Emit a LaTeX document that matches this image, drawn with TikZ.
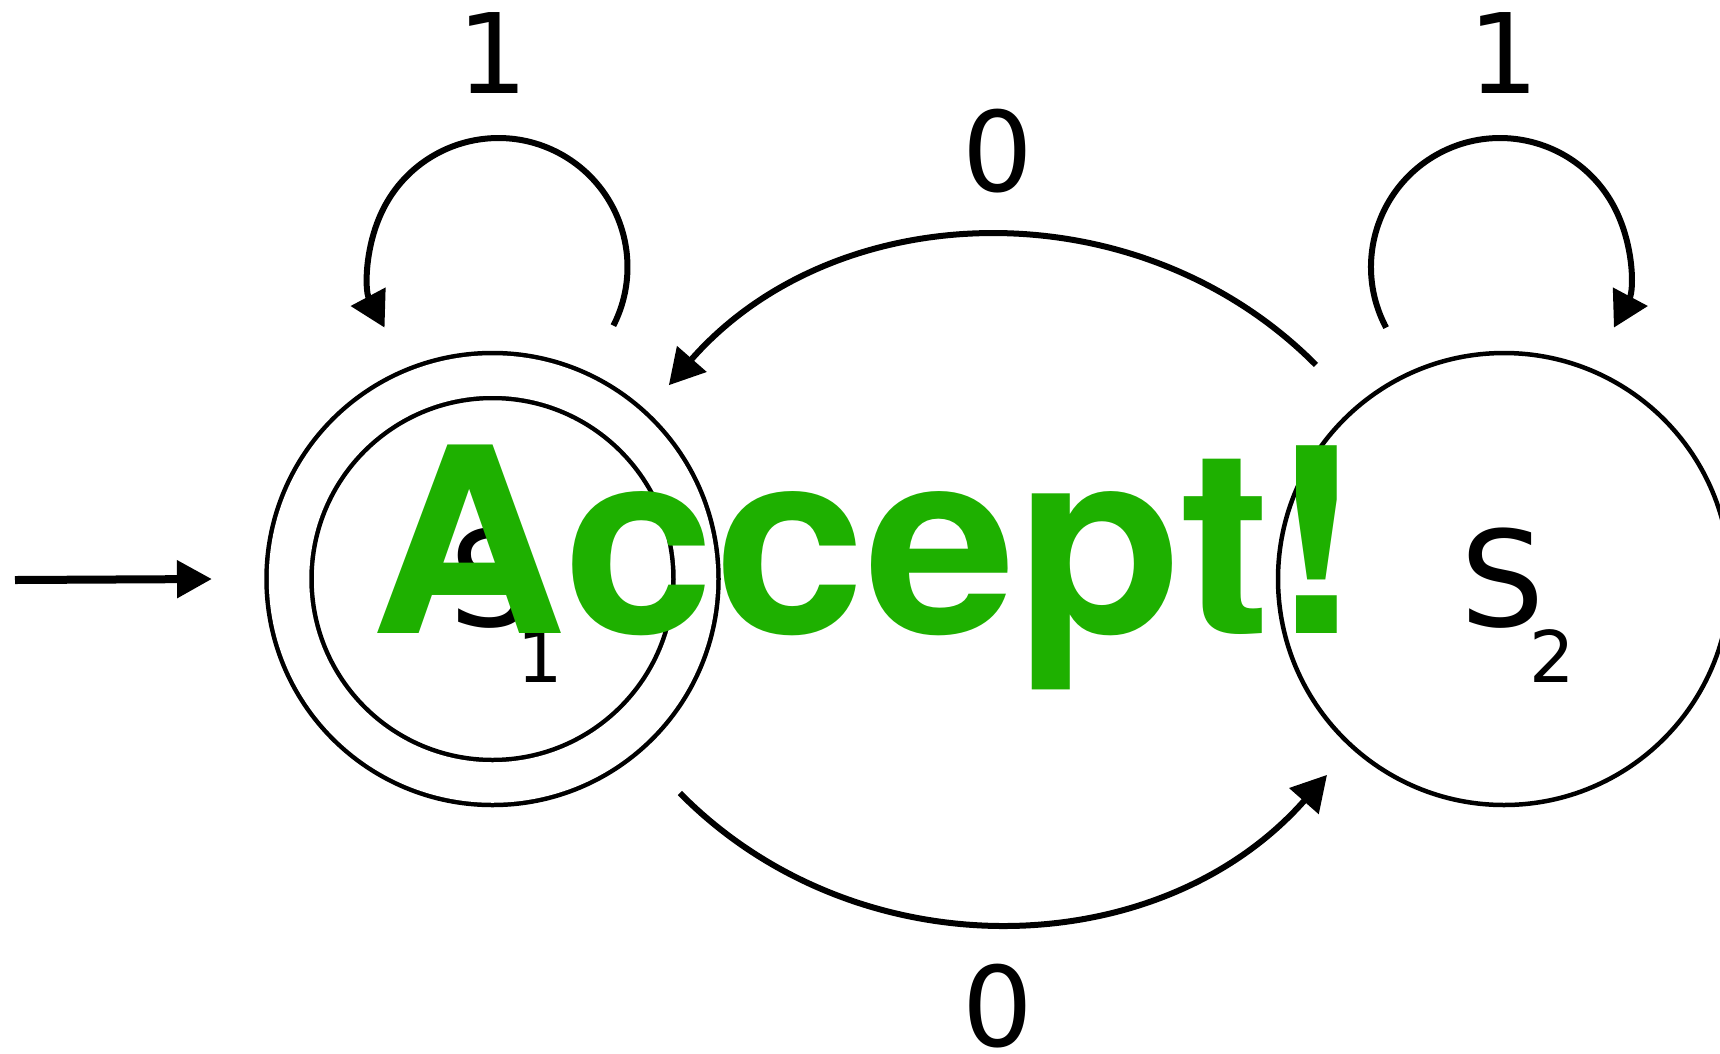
\documentclass[tikz,border=0pt]{standalone}
\usepackage{fontspec}
\setmainfont{DejaVu Sans}
\newfontfamily\bannerfont{TeX Gyre Heros}
\usepackage{tikz}
\usetikzlibrary{
	arrows.meta,
	calc
}
\definecolor{AcceptGreen}{RGB}{30,176,0}
\newcommand{\subidx}[1]{\kern-0.16cm\raisebox{-0.56cm}{\fontsize{20.3pt}{21pt}\selectfont #1}}

\begin{document}
\begin{tikzpicture}[
	state/.style={circle, draw, line width=0.045cm, inner sep=0pt, outer sep=0pt, minimum size=4.52cm},
	accepting/.style={double, double distance=0.405cm, minimum size=4.07cm},
	trans/.style={line width=0.06cm, -{Triangle[length=0.35cm, width=0.38cm]}},
	entry/.style={line width=0.08cm, -{Triangle[length=0.35cm, width=0.36cm]}},
	sym/.style={inner sep=0pt, font=\fontsize{31.6pt}{32pt}\selectfont},
	statelabel/.style={inner sep=0pt, anchor=base west, font=\fontsize{37.8pt}{38pt}\selectfont}
	]
			\clip (0,0) rectangle (17.2,-10.53);
			\node[state, accepting] (s1) at (4.925,-5.79) {};
			\node[state] (s2) at (15.04,-5.79) {};
			\node[statelabel] (n1) at ($(s1.center)+(-0.44,-0.47)$) {S\subidx{1}};
			\node[statelabel] (n2) at ($(s2.center)+(-0.44,-0.47)$) {S\subidx{2}};
			% start arrow
			\coordinate (pre) at (0.15,-5.80);
			\coordinate (in) at ($(s1.center)+(-2.805,0)$);
			\draw[entry] (pre) -- (in);
			% self loops
			\coordinate (l1) at ($(s1.center)+(1.209,2.534)$);
			\coordinate (l2) at ($(s2.center)+(-1.179,2.514)$);
			\draw[trans] (l1) arc[start angle=-27, end angle=208, radius=1.29];
			\draw[trans] (l2) arc[start angle=208, end angle=-28, radius=1.29];
			\node[sym] (one1) at ($(s1.center)+(0,5.255)$) {1};
			\node[sym] (one2) at ($(s2.center)+(0,5.255)$) {1};
			% transitions between the states
			\coordinate (t0) at ($(s2.center)+(131.3:2.85)$);
			\coordinate (t1) at ($(s1.center)+(47.7:2.62)$);
			\coordinate (b0) at ($(s1.center)+(-48.8:2.845)$);
			\coordinate (b1) at ($(s2.center)+(227.9:2.64)$);
			\draw[trans] (t0) to[bend right=47] (t1);
			\draw[trans] (b0) to[bend right=47] (b1);
			\node[sym] (zero1) at (9.98,-1.51) {0};
			\node[sym] (zero2) at (9.98,-10.06) {0};
			\node[text=AcceptGreen, anchor=base west, inner sep=0pt, xscale=1.05, transform shape, font=\bannerfont\bfseries\fontsize{73.6pt}{78pt}\selectfont] (accept) at (3.70,-6.33) {Accept!};
		\end{tikzpicture}
\end{document}
